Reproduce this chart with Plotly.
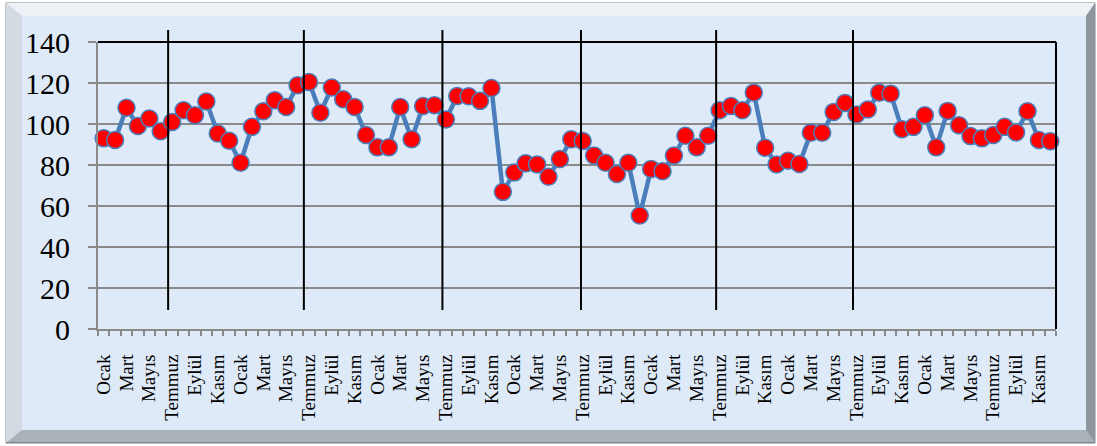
import plotly.graph_objects as go

months = ["Ocak", "Şubat", "Mart", "Nisan", "Mayıs", "Haziran",
          "Temmuz", "Ağustos", "Eylül", "Ekim", "Kasım", "Aralık"]
n_years = 7
categories = months * n_years

values = [93.0, 92.2, 107.9, 99.0, 102.7, 96.5, 101.0, 106.7, 104.3, 111.0, 95.4, 91.8,
          81.1, 98.6, 106.2, 111.6, 108.3, 118.9, 120.5, 105.5, 117.8, 112.1, 108.3, 94.6,
          88.6, 88.6, 108.3, 92.6, 108.8, 109.2, 102.2, 113.7, 113.5, 111.3, 117.6, 66.9,
          76.3, 80.8, 80.3, 74.3, 82.9, 92.6, 91.7, 84.6, 81.1, 75.6, 81.1, 55.4,
          78.1, 77.0, 84.6, 94.3, 88.6, 94.3, 106.7, 108.8, 106.7, 115.3, 88.4, 80.3,
          82.1, 80.5, 95.7, 95.7, 105.9, 110.3, 104.6, 107.1, 115.3, 114.8, 97.4, 98.6,
          104.3, 88.6, 106.4, 99.4, 94.1, 93.0, 94.6, 98.6, 95.9, 106.2, 92.2, 91.6]

# positions (in category index units) of the hand-drawn vertical separator lines
separators = [5.65, 17.55, 29.7, 41.85, 53.7, 65.7]

y_ticks = [0, 20, 40, 60, 80, 100, 120, 140]

W, H = 1097, 446
L, R, T, B = 98, 41, 42, 117
PW, PH = W - L - R, H - T - B


def px(x):
    return (x - L) / PW


def py(y):
    return (H - B - y) / PH


def poly(points, fill, line=None, width=0):
    d = "M " + " L ".join(f"{px(a):.5f},{py(b):.5f}" for a, b in points) + " Z"
    return dict(type="path", xref="paper", yref="paper", path=d, fillcolor=fill,
                line=dict(color=line or fill, width=width), layer="below")


xs = list(range(len(values)))

fig = go.Figure()
fig.add_trace(go.Scatter(
    x=xs, y=values, mode="lines+markers",
    line=dict(color="#4a7ebb", width=4.5),
    marker=dict(size=17, color="#ff0000", line=dict(color="#4a7ebb", width=1.5)),
    hoverinfo="x+y", showlegend=False, cliponaxis=False,
    text=categories,
))

shapes = []
# frame with bevel
x0o, y0o, x1o, y1o = 6, 3, 1095, 443
x0i, y0i, x1i, y1i = 22, 16, 1086, 430
shapes.append(poly([(x0o, y0o), (x1o, y0o), (x1o, y1o), (x0o, y1o)], "#c9ced4", "#80868d", 1))
shapes.append(poly([(x0o, y0o), (x1o, y0o), (x1i, y0i), (x0i, y0i)], "#eef2f6"))
shapes.append(poly([(x0o, y0o), (x0i, y0i), (x0i, y1i), (x0o, y1o)], "#d4dae1"))
shapes.append(poly([(x1o, y0o), (x1o, y1o), (x1i, y1i), (x1i, y0i)], "#8e959d"))
shapes.append(poly([(x0o, y1o), (x1o, y1o), (x1i, y1i), (x0i, y1i)], "#aab1b9"))
shapes.append(poly([(x0i, y0i), (x1i, y0i), (x1i, y1i), (x0i, y1i)], "#deeaf7"))
shapes.append(poly([(x0o, y1o - 1), (x1o, y1o - 1), (x1o, y1o), (x0o, y1o)], "#7c838a"))

# plot area top/right black border
shapes.append(dict(type="line", xref="paper", yref="paper", x0=0, x1=1, y0=1, y1=1,
                   line=dict(color="black", width=2)))
shapes.append(dict(type="line", xref="paper", yref="paper", x0=1, x1=1, y0=0, y1=1,
                   line=dict(color="black", width=2)))

for s in separators:
    shapes.append(dict(type="line", xref="x", yref="paper", x0=s, x1=s,
                       y0=py(310), y1=py(30), line=dict(color="black", width=2)))

tick_idx = list(range(0, len(categories), 2))
fig.update_layout(
    width=W, height=H,
    margin=dict(l=L, r=R, t=T, b=B),
    paper_bgcolor="white",
    plot_bgcolor="rgba(0,0,0,0)",
    font=dict(family="Liberation Serif", color="black"),
    shapes=shapes,
    xaxis=dict(
        range=[-0.5, len(values) - 0.5],
        tickmode="array", tickvals=tick_idx, ticktext=[categories[i] for i in tick_idx],
        tickangle=-90, ticks="", showgrid=False, zeroline=False,
        showline=True, linecolor="#8a8a8a", linewidth=2,
        tickfont=dict(family="Liberation Serif", size=19, color="black"),
        ticklabelstandoff=16,
        minor=dict(tick0=0.5, dtick=1, ticks="outside", ticklen=5,
                   tickcolor="#8a8a8a", tickwidth=1.5, showgrid=False),
    ),
    yaxis=dict(
        range=[0, 140], tickmode="array", tickvals=y_ticks,
        ticks="outside", ticklen=8, tickcolor="#8a8a8a", tickwidth=1.5,
        showgrid=True, gridcolor="#8a8a8a", gridwidth=1.5, zeroline=False,
        showline=True, linecolor="#8a8a8a", linewidth=2,
        tickfont=dict(family="Liberation Serif", size=30, color="black"),
        ticklabelstandoff=12,
    ),
)

fig.write_html("out.html", config={"displayModeBar": False},
               post_script="document.body.style.margin='0px';")
